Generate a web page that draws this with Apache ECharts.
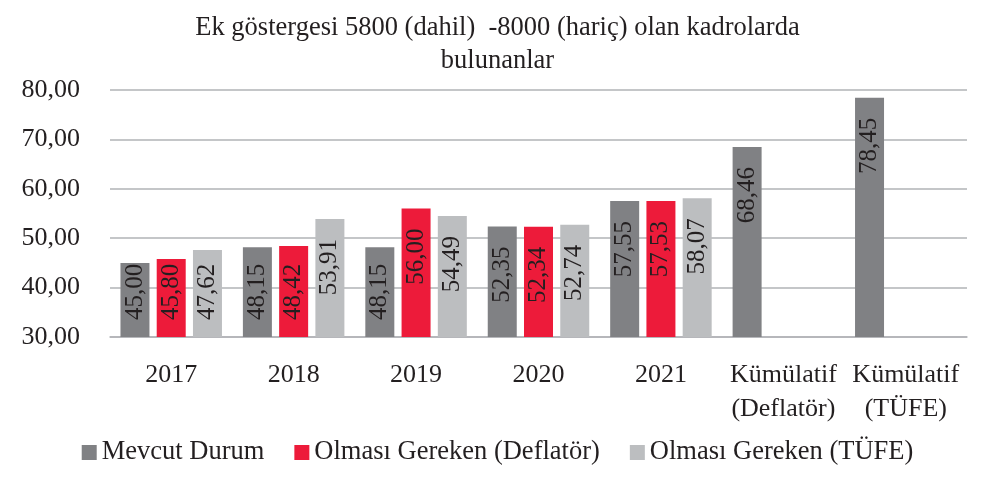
<!DOCTYPE html>
<html>
<head>
<meta charset="utf-8">
<script src="https://cdn.jsdelivr.net/npm/echarts@6/dist/echarts.min.js"></script>
<style>
  html, body { margin: 0; padding: 0; background: #fff; }
  #frame {
    position: absolute; left: 1px; top: 1px;
    width: 989px; height: 479px;
    border: 1px solid #b8b8b8;
  }
  #chart { position: absolute; left: -2px; top: -2px; width: 995px; height: 483px; }
</style>
</head>
<body>
<div id="frame"><div id="chart"></div></div>
<script>
// categories and values
const categories = ["2017", "2018", "2019", "2020", "2021", "Kümülatif\n(Deflatör)", "Kümülatif\n(TÜFE)"];
const mevcutDurum = [45.00, 48.15, 48.15, 52.35, 57.55, 68.46, 78.45];
const olmasiDeflator = [45.80, 48.42, 56.00, 52.34, 57.53, null, null];
const olmasiTufe = [47.62, 53.91, 54.49, 52.74, 58.07, null, null];
const yTicks = [30, 40, 50, 60, 70, 80];

const FONT = "Liberation Serif";
const TEXT = "#231f20";

function fmt(v) {
  return v.toFixed(2).replace(".", ",");
}

// Excel puts the label inside the top of the bar; short bars push it to the bottom
function barData(values) {
  return values.map(function (v) {
    if (v === null) return null;
    if (v < 49.2) {
      return {
        value: v,
        label: { position: "insideBottom", align: "left", distance: 17 }
      };
    }
    return v;
  });
}

function makeSeries(name, values, color) {
  return {
    name: name,
    type: "bar",
    barWidth: 29,
    barGap: "25%",
    itemStyle: { color: color },
    label: {
      show: true,
      position: "insideTop",
      distance: 20,
      rotate: 90,
      align: "right",
      verticalAlign: "middle",
      fontFamily: FONT,
      fontSize: 25,
      color: TEXT,
      formatter: function (p) { return fmt(p.value); }
    },
    data: barData(values)
  };
}

const chart = echarts.init(document.getElementById("chart"));
chart.setOption({
  backgroundColor: "#ffffff",
  animation: false,
  title: {
    text: "Ek göstergesi 5800 (dahil)  -8000 (hariç) olan kadrolarda\nbulunanlar",
    left: "center",
    top: 7,
    textStyle: {
      fontFamily: FONT,
      fontWeight: "normal",
      fontSize: 26.5,
      lineHeight: 33,
      color: TEXT
    }
  },
  legend: {
    bottom: 12,
    left: "center",
    icon: "rect",
    itemWidth: 15,
    itemHeight: 15,
    itemGap: 30,
    textStyle: { fontFamily: FONT, fontSize: 26.5, color: TEXT }
  },
  grid: {
    left: 110,
    right: 28,
    top: 90,
    bottom: 146
  },
  xAxis: {
    type: "category",
    data: categories,
    axisTick: { show: false },
    axisLine: { lineStyle: { color: "#b1b3b6", width: 1.5 } },
    axisLabel: {
      fontFamily: FONT,
      fontSize: 26,
      lineHeight: 34,
      color: TEXT,
      margin: 21,
      interval: 0
    }
  },
  yAxis: {
    type: "value",
    min: yTicks[0],
    max: yTicks[yTicks.length - 1],
    interval: 10,
    axisLine: { show: false },
    axisTick: { show: false },
    splitLine: { lineStyle: { color: "#b1b3b6", width: 1.5 } },
    axisLabel: {
      fontFamily: FONT,
      fontSize: 26,
      color: TEXT,
      margin: 30,
      formatter: function (v) { return fmt(v); }
    }
  },
  series: [
    makeSeries("Mevcut Durum", mevcutDurum, "#808184"),
    makeSeries("Olması Gereken (Deflatör)", olmasiDeflator, "#ed1b3a"),
    makeSeries("Olması Gereken (TÜFE)", olmasiTufe, "#bcbec0")
  ]
});
</script>
</body>
</html>
